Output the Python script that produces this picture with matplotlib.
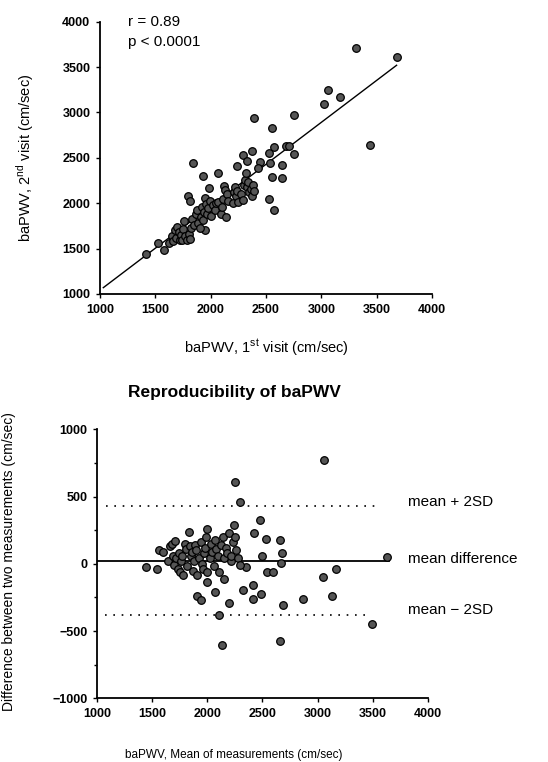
import matplotlib
matplotlib.use("Agg")
import matplotlib.pyplot as plt
from matplotlib.ticker import MultipleLocator

plt.rcParams['font.family'] = ['Liberation Sans', 'DejaVu Sans']

# ---------------- Top panel: 1st visit vs 2nd visit ----------------
visit1 = [1416, 1528, 1582, 3683, 3313, 3436, 3056, 3026, 3165, 2755, 2755, 2390,
          2556, 1844, 1932, 2067, 2236, 2372, 2290, 2327, 2574, 2526, 2532, 2643,
          2646, 2550, 2526, 2568, 2682, 2706, 2447, 2430, 1984, 1948, 1798, 1813,
          1620, 1650, 1660, 1680, 1690, 1700, 1710, 1720, 1730, 1745, 1750, 1760,
          1770, 1790, 1800, 1810, 1820, 1830,
          1850, 1870, 1880, 1890, 1900, 1910, 1920, 1930, 1940, 1950, 1960, 1970,
          1980, 1990, 2000, 2020, 2040, 2050, 2070, 2090, 2100, 2110, 2120, 2130,
          2140, 2150, 2160,
          2200, 2210, 2220, 2230, 2240, 2250, 2270, 2290, 2300, 2310, 2320, 2330,
          2340, 2350, 2360, 2370, 2380, 2390]
visit2 = [1441, 1558, 1485, 3607, 3714, 2638, 3247, 3089, 3166, 2972, 2542, 2939,
          2825, 2439, 2300, 2337, 2410, 2579, 2531, 2469, 2616, 2550, 2447, 2421,
          2274, 2293, 2043, 1925, 2634, 2634, 2450, 2385, 2164, 1705, 2075, 2020,
          1560, 1640, 1580, 1700, 1620, 1740, 1680, 1600, 1650, 1590, 1720, 1800,
          1640, 1600, 1660, 1610, 1730, 1830,
          1760, 1880, 1930, 1780, 1730, 1850, 1960, 1810, 1900, 2060, 1990, 1880,
          1950, 2030, 1860, 1980, 1920, 2000, 2010, 1880, 1960, 2050, 2190, 2150,
          1850, 2100, 2030,
          2000, 2120, 2180, 2080, 2140, 2010, 2100, 2040, 2200, 2260, 2330, 2180,
          2230, 2120, 2160, 2080, 2200, 2140]
fit_x = [1030, 3680]
fit_y = [1070, 3520]

# ---------------- Bottom panel: Bland-Altman ----------------
mean_meas = [3061, 2254, 2296, 2473, 2425, 2536, 2659, 1999, 1834, 3625, 3169, 3049,
             3130, 2866, 2689, 2194, 2326, 2410, 2485, 2410, 2350, 2149, 1996, 2065,
             1909, 1945, 2110, 2131, 2659, 3496, 2545, 2599, 1441, 1543, 2494, 2680,
             2665, 2215,
             1560, 1600, 1640, 1660, 1680, 1690, 1700, 1710, 1720, 1730, 1740, 1750,
             1760, 1770, 1780, 1800, 1810, 1820, 1840, 1850, 1860, 1870, 1880, 1890,
             1900, 1910, 1920, 1940, 1950, 1960, 1970, 1980, 1990, 2000, 2020, 2030,
             2040, 2060, 2070, 2080, 2100, 2110, 2120, 2140, 2150, 2170, 2180, 2200,
             2210, 2230, 2240, 2250, 2260, 2280, 2300]
difference = [771, 610, 459, 325, 226, 188, 174, 260, 238, 50, -42, -97,
              -236, -260, -310, -290, -198, -265, -228, -154, -25, -112, -136, -206,
              -241, -270, -382, -600, -575, -446, -62, -62, -25, -37, 57, 82,
              7, 20,
              100, 90, 20, 130, 150, 60, -10, 170, 40, -40, 80, -60,
              20, 60, -80, 150, 110, -20, 130, 60, 90, -50, 20, 140,
              100, -80, 40, 160, 0, -40, 80, 120, 200, -60, 40, 150,
              90, -20, 180, 110, 60, -60, 140, 200, 40, 120, 80, 230,
              60, 160, 290, 200, 100, 40, -10]
mean_diff = 20
upper_loa = 430
lower_loa = -380

fig = plt.figure(figsize=(5.48, 7.62), dpi=100)

marker_kw = dict(s=30, c='#555555', edgecolors='black', linewidths=0.9, zorder=3)

# Top axes
ax1 = fig.add_axes([100 / 548, 1 - 294 / 762, 332 / 548, 272.3 / 762])
ax1.scatter(visit1, visit2, **marker_kw)
ax1.plot(fit_x, fit_y, color='black', lw=1.0, zorder=2)
ax1.set_xlim(1000, 4000)
ax1.set_ylim(1000, 4000)
ax1.xaxis.set_major_locator(MultipleLocator(500))
ax1.yaxis.set_major_locator(MultipleLocator(500))
for s in ['top', 'right']:
    ax1.spines[s].set_visible(False)
for s in ['left', 'bottom']:
    ax1.spines[s].set_linewidth(1.3)
ax1.tick_params(direction='out', length=3, width=1, pad=4)
for lab in ax1.get_xticklabels() + ax1.get_yticklabels():
    lab.set_fontsize(9)
    lab.set_fontweight('bold')
ax1.set_xlabel('baPWV, 1$^{\\mathregular{st}}$ visit (cm/sec)', fontsize=10.5, labelpad=16)
ax1.set_ylabel('baPWV, 2$^{\\mathregular{nd}}$ visit (cm/sec)', fontsize=10.5, labelpad=19)
ax1.text(0.085, 1.0, 'r = 0.89', transform=ax1.transAxes, fontsize=11, va='center')
ax1.text(0.085, 0.925, 'p < 0.0001', transform=ax1.transAxes, fontsize=11, va='center')

# Bottom axes
ax2 = fig.add_axes([97 / 548, 1 - 698.3 / 762, 331 / 548, 269 / 762])
ax2.scatter(mean_meas, difference, **marker_kw)
ax2.plot([1000, 3650], [mean_diff, mean_diff], color='black', lw=1.3, zorder=2)
ax2.plot([1080, 3530], [upper_loa, upper_loa], color='black', lw=1.2,
         linestyle=(0, (1, 4)), zorder=2)
ax2.plot([1070, 3470], [lower_loa, lower_loa], color='black', lw=1.2,
         linestyle=(0, (1, 4)), zorder=2)
ax2.set_xlim(1000, 4000)
ax2.set_ylim(-1000, 1000)
ax2.xaxis.set_major_locator(MultipleLocator(500))
ax2.yaxis.set_major_locator(MultipleLocator(500))
ax2.yaxis.set_minor_locator(MultipleLocator(250))
for s in ['top', 'right']:
    ax2.spines[s].set_visible(False)
for s in ['left', 'bottom']:
    ax2.spines[s].set_linewidth(1.3)
ax2.tick_params(direction='out', length=3, width=1, pad=4)
ax2.tick_params(which='minor', direction='out', length=2, width=1)
for lab in ax2.get_xticklabels() + ax2.get_yticklabels():
    lab.set_fontsize(9)
    lab.set_fontweight('bold')
ax2.set_xlabel('baPWV, Mean of measurements (cm/sec)', fontsize=8.5)
ax2.xaxis.set_label_coords(0.414, -0.19)
ax2.set_ylabel('Difference between two measurements (cm/sec)', fontsize=10)
ax2.yaxis.set_label_coords(-0.245, 0.51)
ax2.set_title('Reproducibility of baPWV', fontsize=12.5, fontweight='bold', pad=23,
              x=0.414)

ax2.text(3820, 459, 'mean + 2SD', fontsize=11, va='center', ha='left', clip_on=False)
ax2.text(3820, 36, 'mean difference', fontsize=11, va='center', ha='left', clip_on=False)
ax2.text(3820, -343, 'mean \u2212 2SD', fontsize=11, va='center', ha='left', clip_on=False)

fig.savefig('out.png', dpi=100)
